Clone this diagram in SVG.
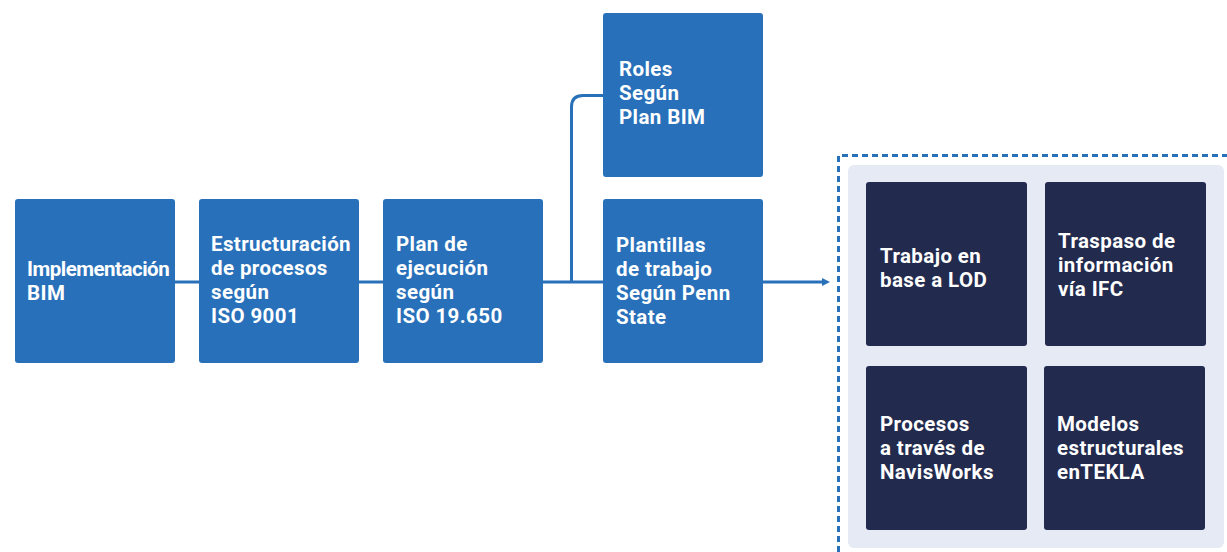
<svg xmlns="http://www.w3.org/2000/svg" width="1227" height="552" viewBox="0 0 1227 552">
<defs>
<style>
.b{fill:#2870b9;}
.d{fill:#222a4e;}
.t{font-family:Roboto,"Liberation Sans",sans-serif;font-weight:bold;font-size:20.5px;letter-spacing:0.4px;fill:#ffffff;}
.n{letter-spacing:-0.5px;}
.c{fill:none;stroke:#2870b9;stroke-width:3;}
</style>
<marker id="ah" markerWidth="8" markerHeight="8" refX="4" refY="4" orient="auto" markerUnits="userSpaceOnUse">
<path d="M0,0 L8,4 L0,8 Z" fill="#2870b9"/>
</marker>
</defs>
<rect width="1227" height="552" fill="#ffffff"/>
<g id="connectors">
<path class="c" d="M175,282 H199"/>
<path class="c" d="M359,282 H383"/>
<path class="c" d="M543,282 H603"/>
<path class="c" d="M571.5,282 V107 Q571.5,95.5 583,95.5 H603"/>
<path class="c" d="M763,282 H826" marker-end="url(#ah)"/>
</g>
<g id="n1"><rect class="b" x="15" y="199" width="160" height="164" rx="3"/>
<text class="t n" x="27" y="276">Implementación</text><text class="t" x="27" y="300">BIM</text></g>
<g id="n2"><rect class="b" x="199" y="199" width="160" height="164" rx="3"/>
<text class="t" x="211" y="251">Estructuración</text><text class="t" x="211" y="275">de procesos</text><text class="t" x="211" y="299">según</text><text class="t" x="211" y="323">ISO 9001</text></g>
<g id="n3"><rect class="b" x="383" y="199" width="160" height="164" rx="3"/>
<text class="t" x="396" y="251">Plan de</text><text class="t" x="396" y="275">ejecución</text><text class="t" x="396" y="299">según</text><text class="t" x="396" y="323">ISO 19.650</text></g>
<g id="n4"><rect class="b" x="603" y="13" width="160" height="164" rx="3"/>
<text class="t" x="619" y="76">Roles</text><text class="t" x="619" y="100">Según</text><text class="t" x="619" y="124">Plan BIM</text></g>
<g id="n5"><rect class="b" x="603" y="199" width="160" height="164" rx="3"/>
<text class="t" x="616" y="252">Plantillas</text><text class="t" x="616" y="276">de trabajo</text><text class="t" x="616" y="300">Según Penn</text><text class="t" x="616" y="324">State</text></g>
<g id="group">
<path d="M838.5,552 V155.5 H1227" fill="none" stroke="#2870b9" stroke-width="3" stroke-dasharray="6 4"/>
<rect x="848" y="165" width="376" height="383" rx="6" fill="#e6eaf4"/>
</g>
<g id="n6"><rect class="d" x="866" y="182" width="161" height="164" rx="3"/>
<text class="t" x="880" y="263">Trabajo en</text><text class="t" x="880" y="287">base a LOD</text></g>
<g id="n7"><rect class="d" x="1045" y="182" width="161" height="164" rx="3"/>
<text class="t" x="1058" y="248">Traspaso de</text><text class="t" x="1058" y="272">información</text><text class="t" x="1058" y="296">vía IFC</text></g>
<g id="n8"><rect class="d" x="866" y="366" width="161" height="164" rx="3"/>
<text class="t" x="880" y="431">Procesos</text><text class="t" x="880" y="455">a través de</text><text class="t" x="880" y="479">NavisWorks</text></g>
<g id="n9"><rect class="d" x="1044" y="366" width="161" height="164" rx="3"/>
<text class="t" x="1057" y="431">Modelos</text><text class="t" x="1057" y="455">estructurales</text><text class="t" x="1057" y="479">enTEKLA</text></g>
</svg>
